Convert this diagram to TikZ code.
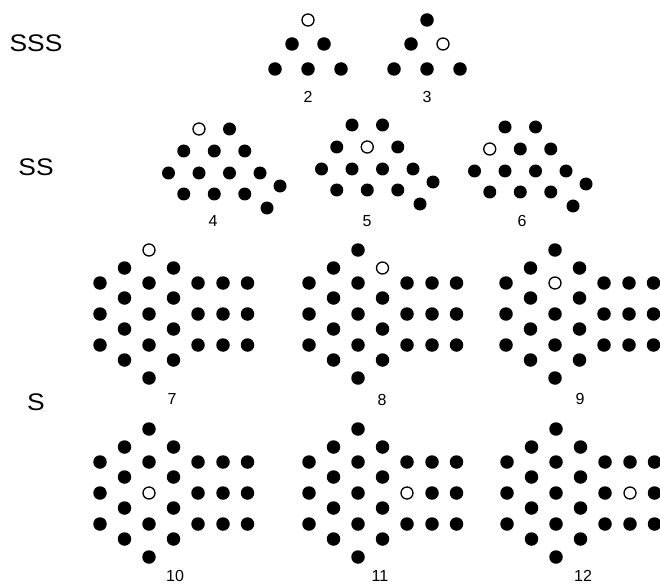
\documentclass[tikz,border=0pt]{standalone}
\usepackage{fontspec}
\setmainfont{Liberation Sans}

\tikzset{
  atom/.style={circle,fill=black,inner sep=0pt,minimum size=13.5pt},
  vac/.style={fill=white,draw=black,line width=1.3pt,minimum size=12pt},
  num/.style={font=\fontsize{16}{16}\selectfont},
  tag/.style={font=\fontsize{24}{24}\selectfont, xscale=1.1}
}

% triangle of six sites, origin at the top site
\newcommand\sssmol[4]{%
  \begin{scope}[shift={(#2,#3)}, open #4/.style={vac}]
    \foreach \p/\dx/\dy in {t/0/0, m1/-16/24, m2/16/24, b1/-33/49, b2/0/49, b3/33/49}
      \node[atom, open \p/.try] (#1\p) at (\dx,\dy) {};
  \end{scope}}

% fifteen sites, origin at the left top site
\newcommand\ssmol[4]{%
  \begin{scope}[shift={(#2,#3)}, open #4/.style={vac}, atom/.append style={minimum size=13pt}]
    \foreach \p/\dx/\dy in {r1/0/0, r2/30.5/0,
        s1/-15.25/22, s2/15.25/22, s3/45.75/22,
        t1/-30.5/44, t2/0/44, t3/30.5/44, t4/61/44,
        u1/-15.25/65, u2/15.25/65, u3/45.75/65,
        x1/81/57, x2/68/79}
      \node[atom, open \p/.try] (#1\p) at (\dx,\dy) {};
  \end{scope}}

% diamond plus block of nine, origin at the top site
\newcommand\bigmol[4]{%
  \begin{scope}[shift={(#2,#3)}, open #4/.style={vac}]
    \foreach \p/\dx/\dy in {c1/0/0, c2/0/33, c3/0/64, c4/0/95, c5/0/128,
        b1/-24.5/18, b2/-24.5/48, b3/-24.5/79, b4/-24.5/110,
        d1/24.5/18, d2/24.5/48, d3/24.5/79, d4/24.5/110,
        a1/-49/33, a2/-49/64, a3/-49/95,
        e1/49/33, e2/49/64, e3/49/95,
        f1/74/33, f2/74/64, f3/74/95,
        g1/98.5/33, g2/98.5/64, g3/98.5/95}
      \node[atom, open \p/.try] (#1\p) at (\dx,\dy) {};
  \end{scope}}

\begin{document}
\begin{tikzpicture}[x=1pt,y=-1pt]
  \useasboundingbox[fill=white] (0,0) rectangle (660,585);
  % row labels
  \node[tag] (tsss) at (36,43) {SSS};
  \node[tag] (tss) at (36,167) {SS};
  \node[tag] (ts) at (36,402) {S};
  % SSS
  \sssmol{p2}{308}{20}{t}
  \sssmol{p3}{427}{20}{m2}
  \node[num] (l2) at (308,97) {2};
  \node[num] (l3) at (427,97) {3};
  % SS
  \ssmol{p4}{199}{129}{r1}
  \ssmol{p5}{352}{125}{s2}
  \ssmol{p6}{505}{127}{s1}
  \node[num] (l4) at (213,221) {4};
  \node[num] (l5) at (367,221) {5};
  \node[num] (l6) at (522,221) {6};
  % S
  \bigmol{p7}{149}{250}{c1}
  \bigmol{p8}{358}{250}{d1}
  \bigmol{p9}{555}{250}{c2}
  \bigmol{p10}{149}{429}{c3}
  \bigmol{p11}{358}{429}{e2}
  \bigmol{p12}{556}{429}{f2}
  \node[num] (l7) at (172,399) {7};
  \node[num] (l8) at (382,400) {8};
  \node[num] (l9) at (580,399) {9};
  \node[num] (l10) at (175,576) {10};
  \node[num] (l11) at (380,576) {11};
  \node[num] (l12) at (583,576) {12};
\end{tikzpicture}
\end{document}
